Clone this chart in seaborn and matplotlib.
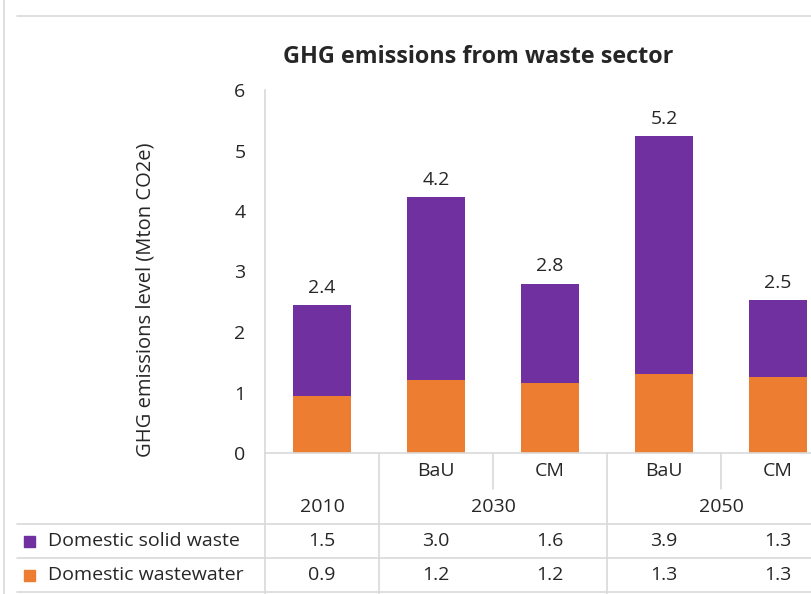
"""GHG emissions from waste sector: stacked bars with an Excel-style data table."""
import matplotlib
matplotlib.use("Agg")
import matplotlib.pyplot as plt
import matplotlib.transforms as mtransforms
from matplotlib.lines import Line2D
import seaborn as sns

sns.set_theme(style="white")
plt.rcParams["font.family"] = ["Open Sans", "DejaVu Sans"]

# data
categories = ["2010", "2030 BaU", "2030 CM", "2050 BaU", "2050 CM"]
sub_labels = ["", "BaU", "CM", "BaU", "CM"]
year_labels = ["2010", "2030", "2050"]
year_centers = [0, 1.5, 3.5]
solid_waste = [1.50, 3.02, 1.64, 3.94, 1.27]
wastewater = [0.94, 1.21, 1.16, 1.30, 1.26]
series_names = ["Domestic solid waste", "Domestic wastewater"]

PURPLE = "#7030A0"
ORANGE = "#ED7D31"
GRID = "#D9D9D9"
FS = 14

totals = [s + w for s, w in zip(solid_waste, wastewater)]

W, H = 811, 594
fig = plt.figure(figsize=(W / 100, H / 100), dpi=100)
ax = fig.add_axes([265 / W, 141 / H, 570 / W, 363 / H])

sns.barplot(x=categories, y=totals, color=PURPLE, saturation=1, width=0.51,
            linewidth=0, ax=ax)
sns.barplot(x=categories, y=wastewater, color=ORANGE, saturation=1, width=0.51,
            linewidth=0, ax=ax)

ax.bar_label(ax.containers[0], labels=[f"{t:.1f}" for t in totals], padding=6, fontsize=FS)

ax.set_xlim(-0.5, 4.5)
ax.set_ylim(0, 6)
ax.set_yticks(range(0, 7))
ax.tick_params(axis="y", length=0, pad=14, labelsize=FS)
ax.set_xticks([])
ax.set_xlabel("")
for side in ["top", "right"]:
    ax.spines[side].set_visible(False)
for side in ["left", "bottom"]:
    ax.spines[side].set_color(GRID)
    ax.spines[side].set_linewidth(1.2)

fig.text(478 / W, 1 - 57 / H, "GHG emissions from waste sector",
         ha="center", va="center", fontsize=16.8, fontweight="bold")
fig.text(145 / W, 1 - 300 / H, "GHG emissions level (Mton CO2e)",
         ha="center", va="center", rotation=90, fontsize=14.5)

# data table below the axis
trans = mtransforms.blended_transform_factory(ax.transData, fig.transFigure)


def fy(py):
    return 1 - py / H


def vline(x, y0, y1):
    fig.add_artist(Line2D([x, x], [fy(y0), fy(y1)], transform=trans, color=GRID, lw=1.2))


vline(-0.5, 453, 594)
vline(0.5, 453, 594)
vline(2.5, 453, 594)
vline(1.5, 453, 489)
vline(3.5, 453, 489)

for py in [524, 558, 592]:
    fig.add_artist(Line2D([17 / W, 1], [fy(py), fy(py)], transform=fig.transFigure, color=GRID, lw=1.2))
fig.add_artist(Line2D([17 / W, 1], [fy(16), fy(16)], transform=fig.transFigure, color=GRID, lw=1.2))
fig.add_artist(Line2D([4 / W, 4 / W], [0, 1], transform=fig.transFigure, color=GRID, lw=1.2))

for i, lab in enumerate(sub_labels):
    ax.text(i, fy(471), lab, transform=trans, ha="center", va="center", fontsize=FS)
for xc, lab in zip(year_centers, year_labels):
    ax.text(xc, fy(507), lab, transform=trans, ha="center", va="center", fontsize=FS)

for row_y, name, vals, col in [(541, series_names[0], solid_waste, PURPLE),
                               (575, series_names[1], wastewater, ORANGE)]:
    fig.patches.append(plt.Rectangle((24 / W, fy(row_y) - 5.5 / H), 11 / W, 11 / H,
                                     transform=fig.transFigure, color=col, figure=fig))
    fig.text(48 / W, fy(row_y), name, ha="left", va="center", fontsize=FS)
    for i, v in enumerate(vals):
        ax.text(i, fy(row_y), f"{v:.1f}", transform=trans, ha="center", va="center", fontsize=FS)

fig.savefig("out.png", dpi=100)
